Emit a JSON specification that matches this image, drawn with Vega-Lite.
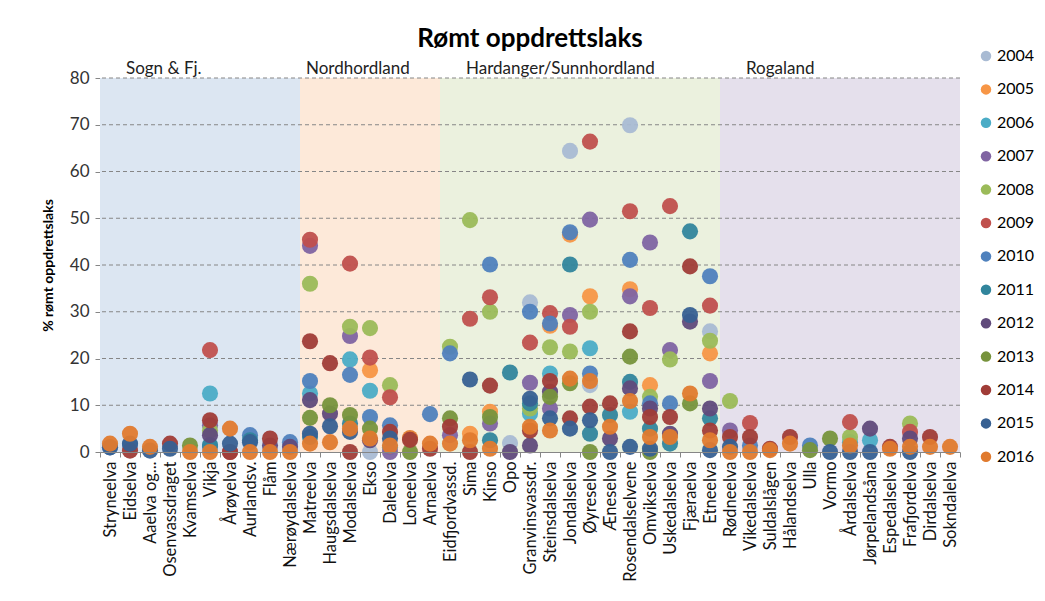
{
  "$schema": "https://vega.github.io/schema/vega-lite/v6.json",
  "width": 860,
  "height": 374,
  "autosize": {"type": "none"},
  "padding": {"left": 100, "top": 78, "right": 85, "bottom": 149},
  "background": "white",
  "config": {"view": {"stroke": null}, "font": "Lato"},
  "title": {"text": "Rømt oppdrettslaks", "font": "Lato", "fontSize": 26, "fontWeight": "bold", "color": "#000000", "anchor": "middle", "offset": -4},
  "datasets": {
    "rivers": [
      {"r": "Stryneelva", "y": "2010", "v": 1.0}, {"r": "Stryneelva", "y": "2015", "v": 1.0}, {"r": "Stryneelva", "y": "2016", "v": 1.8},
      {"r": "Eidselva", "y": "2010", "v": 1.5}, {"r": "Eidselva", "y": "2014", "v": 0.3}, {"r": "Eidselva", "y": "2015", "v": 1.8}, {"r": "Eidselva", "y": "2016", "v": 3.9},
      {"r": "Aaelva og...", "y": "2015", "v": 0.3}, {"r": "Aaelva og...", "y": "2016", "v": 1.1},
      {"r": "Osenvassdraget", "y": "2014", "v": 1.8}, {"r": "Osenvassdraget", "y": "2015", "v": 0.7},
      {"r": "Kvamselva", "y": "2013", "v": 1.4}, {"r": "Kvamselva", "y": "2016", "v": 0.0},
      {"r": "Vikja", "y": "2006", "v": 12.5}, {"r": "Vikja", "y": "2007", "v": 5.7}, {"r": "Vikja", "y": "2008", "v": 4.6}, {"r": "Vikja", "y": "2009", "v": 21.8}, {"r": "Vikja", "y": "2010", "v": 1.1}, {"r": "Vikja", "y": "2011", "v": 1.5}, {"r": "Vikja", "y": "2012", "v": 3.6}, {"r": "Vikja", "y": "2014", "v": 6.8}, {"r": "Vikja", "y": "2016", "v": 0.0},
      {"r": "Årøyelva", "y": "2009", "v": 0.0}, {"r": "Årøyelva", "y": "2014", "v": 0.0}, {"r": "Årøyelva", "y": "2015", "v": 1.8}, {"r": "Årøyelva", "y": "2016", "v": 5.0},
      {"r": "Aurlandsv.", "y": "2010", "v": 3.6}, {"r": "Aurlandsv.", "y": "2011", "v": 2.5}, {"r": "Aurlandsv.", "y": "2015", "v": 2.1}, {"r": "Aurlandsv.", "y": "2016", "v": 0.0},
      {"r": "Flåm", "y": "2012", "v": 1.4}, {"r": "Flåm", "y": "2014", "v": 2.9}, {"r": "Flåm", "y": "2016", "v": 0.0},
      {"r": "Nærøydalselva", "y": "2010", "v": 2.1}, {"r": "Nærøydalselva", "y": "2012", "v": 1.1}, {"r": "Nærøydalselva", "y": "2016", "v": 0.0},
      {"r": "Matreelva", "y": "2006", "v": 12.5}, {"r": "Matreelva", "y": "2007", "v": 44.1}, {"r": "Matreelva", "y": "2008", "v": 36.0}, {"r": "Matreelva", "y": "2009", "v": 45.4}, {"r": "Matreelva", "y": "2010", "v": 15.2}, {"r": "Matreelva", "y": "2011", "v": 3.2}, {"r": "Matreelva", "y": "2012", "v": 11.1}, {"r": "Matreelva", "y": "2013", "v": 7.3}, {"r": "Matreelva", "y": "2014", "v": 23.7}, {"r": "Matreelva", "y": "2015", "v": 3.9}, {"r": "Matreelva", "y": "2016", "v": 1.8},
      {"r": "Haugsdalselva", "y": "2012", "v": 8.2}, {"r": "Haugsdalselva", "y": "2013", "v": 10.0}, {"r": "Haugsdalselva", "y": "2014", "v": 19.0}, {"r": "Haugsdalselva", "y": "2015", "v": 5.5}, {"r": "Haugsdalselva", "y": "2016", "v": 2.1},
      {"r": "Modalselva", "y": "2006", "v": 19.8}, {"r": "Modalselva", "y": "2007", "v": 24.8}, {"r": "Modalselva", "y": "2008", "v": 26.8}, {"r": "Modalselva", "y": "2009", "v": 40.3}, {"r": "Modalselva", "y": "2010", "v": 16.5}, {"r": "Modalselva", "y": "2011", "v": 6.1}, {"r": "Modalselva", "y": "2013", "v": 7.9}, {"r": "Modalselva", "y": "2014", "v": 0.0}, {"r": "Modalselva", "y": "2015", "v": 4.3}, {"r": "Modalselva", "y": "2016", "v": 5.0},
      {"r": "Ekso", "y": "2004", "v": 0.0}, {"r": "Ekso", "y": "2005", "v": 17.5}, {"r": "Ekso", "y": "2006", "v": 13.1}, {"r": "Ekso", "y": "2008", "v": 26.5}, {"r": "Ekso", "y": "2009", "v": 20.2}, {"r": "Ekso", "y": "2010", "v": 7.5}, {"r": "Ekso", "y": "2012", "v": 2.5}, {"r": "Ekso", "y": "2013", "v": 5.0}, {"r": "Ekso", "y": "2016", "v": 2.9},
      {"r": "Daleelva", "y": "2006", "v": 1.0}, {"r": "Daleelva", "y": "2007", "v": 0.0}, {"r": "Daleelva", "y": "2008", "v": 14.3}, {"r": "Daleelva", "y": "2009", "v": 11.7}, {"r": "Daleelva", "y": "2010", "v": 5.7}, {"r": "Daleelva", "y": "2014", "v": 4.3}, {"r": "Daleelva", "y": "2015", "v": 2.9}, {"r": "Daleelva", "y": "2016", "v": 1.4},
      {"r": "Loneelva", "y": "2013", "v": 0.0}, {"r": "Loneelva", "y": "2016", "v": 3.0}, {"r": "Loneelva", "y": "2014", "v": 2.6},
      {"r": "Arnaelva", "y": "2010", "v": 8.1}, {"r": "Arnaelva", "y": "2014", "v": 0.7}, {"r": "Arnaelva", "y": "2016", "v": 1.8},
      {"r": "Eidfjordvassd.", "y": "2007", "v": 3.6}, {"r": "Eidfjordvassd.", "y": "2008", "v": 22.5}, {"r": "Eidfjordvassd.", "y": "2010", "v": 21.1}, {"r": "Eidfjordvassd.", "y": "2013", "v": 7.2}, {"r": "Eidfjordvassd.", "y": "2014", "v": 5.4}, {"r": "Eidfjordvassd.", "y": "2016", "v": 1.8},
      {"r": "Sima", "y": "2005", "v": 3.9}, {"r": "Sima", "y": "2008", "v": 49.6}, {"r": "Sima", "y": "2009", "v": 28.5}, {"r": "Sima", "y": "2014", "v": 0.0}, {"r": "Sima", "y": "2015", "v": 15.5}, {"r": "Sima", "y": "2016", "v": 2.5},
      {"r": "Kinso", "y": "2005", "v": 8.6}, {"r": "Kinso", "y": "2007", "v": 6.1}, {"r": "Kinso", "y": "2008", "v": 30.0}, {"r": "Kinso", "y": "2009", "v": 33.1}, {"r": "Kinso", "y": "2010", "v": 40.1}, {"r": "Kinso", "y": "2011", "v": 2.5}, {"r": "Kinso", "y": "2013", "v": 7.5}, {"r": "Kinso", "y": "2014", "v": 14.2}, {"r": "Kinso", "y": "2016", "v": 0.7},
      {"r": "Opo", "y": "2004", "v": 1.9}, {"r": "Opo", "y": "2011", "v": 17.0}, {"r": "Opo", "y": "2012", "v": 0.0},
      {"r": "Granvinsvassdr.", "y": "2004", "v": 32.0}, {"r": "Granvinsvassdr.", "y": "2006", "v": 8.2}, {"r": "Granvinsvassdr.", "y": "2007", "v": 14.8}, {"r": "Granvinsvassdr.", "y": "2008", "v": 9.3}, {"r": "Granvinsvassdr.", "y": "2009", "v": 23.4}, {"r": "Granvinsvassdr.", "y": "2010", "v": 30.0}, {"r": "Granvinsvassdr.", "y": "2011", "v": 10.4}, {"r": "Granvinsvassdr.", "y": "2012", "v": 1.4}, {"r": "Granvinsvassdr.", "y": "2014", "v": 4.6}, {"r": "Granvinsvassdr.", "y": "2015", "v": 11.4}, {"r": "Granvinsvassdr.", "y": "2016", "v": 5.4},
      {"r": "Steinsdalselva", "y": "2005", "v": 27.0}, {"r": "Steinsdalselva", "y": "2006", "v": 16.8}, {"r": "Steinsdalselva", "y": "2007", "v": 9.3}, {"r": "Steinsdalselva", "y": "2008", "v": 22.4}, {"r": "Steinsdalselva", "y": "2009", "v": 29.7}, {"r": "Steinsdalselva", "y": "2010", "v": 27.5}, {"r": "Steinsdalselva", "y": "2012", "v": 12.9}, {"r": "Steinsdalselva", "y": "2013", "v": 11.8}, {"r": "Steinsdalselva", "y": "2014", "v": 15.2}, {"r": "Steinsdalselva", "y": "2015", "v": 7.2}, {"r": "Steinsdalselva", "y": "2016", "v": 4.6},
      {"r": "Jondalselva", "y": "2004", "v": 64.4}, {"r": "Jondalselva", "y": "2005", "v": 46.5}, {"r": "Jondalselva", "y": "2007", "v": 29.3}, {"r": "Jondalselva", "y": "2008", "v": 21.5}, {"r": "Jondalselva", "y": "2009", "v": 26.8}, {"r": "Jondalselva", "y": "2010", "v": 47.0}, {"r": "Jondalselva", "y": "2011", "v": 40.1}, {"r": "Jondalselva", "y": "2013", "v": 14.7}, {"r": "Jondalselva", "y": "2014", "v": 7.2}, {"r": "Jondalselva", "y": "2015", "v": 5.0}, {"r": "Jondalselva", "y": "2016", "v": 15.7},
      {"r": "Øyreselva", "y": "2004", "v": 14.3}, {"r": "Øyreselva", "y": "2005", "v": 33.3}, {"r": "Øyreselva", "y": "2006", "v": 22.2}, {"r": "Øyreselva", "y": "2007", "v": 49.7}, {"r": "Øyreselva", "y": "2008", "v": 30.0}, {"r": "Øyreselva", "y": "2009", "v": 66.4}, {"r": "Øyreselva", "y": "2010", "v": 16.8}, {"r": "Øyreselva", "y": "2011", "v": 3.9}, {"r": "Øyreselva", "y": "2013", "v": 0.0}, {"r": "Øyreselva", "y": "2014", "v": 9.7}, {"r": "Øyreselva", "y": "2015", "v": 6.8}, {"r": "Øyreselva", "y": "2016", "v": 15.2},
      {"r": "Æneselva", "y": "2011", "v": 7.9}, {"r": "Æneselva", "y": "2012", "v": 2.9}, {"r": "Æneselva", "y": "2014", "v": 10.4}, {"r": "Æneselva", "y": "2015", "v": 0.0}, {"r": "Æneselva", "y": "2016", "v": 5.4},
      {"r": "Rosendalselvene", "y": "2004", "v": 69.9}, {"r": "Rosendalselvene", "y": "2005", "v": 34.8}, {"r": "Rosendalselvene", "y": "2006", "v": 8.6}, {"r": "Rosendalselvene", "y": "2007", "v": 33.3}, {"r": "Rosendalselvene", "y": "2009", "v": 51.5}, {"r": "Rosendalselvene", "y": "2010", "v": 41.1}, {"r": "Rosendalselvene", "y": "2011", "v": 15.0}, {"r": "Rosendalselvene", "y": "2012", "v": 13.6}, {"r": "Rosendalselvene", "y": "2013", "v": 20.4}, {"r": "Rosendalselvene", "y": "2014", "v": 25.8}, {"r": "Rosendalselvene", "y": "2015", "v": 1.1}, {"r": "Rosendalselvene", "y": "2016", "v": 10.9},
      {"r": "Omvikselva", "y": "2005", "v": 14.3}, {"r": "Omvikselva", "y": "2007", "v": 44.8}, {"r": "Omvikselva", "y": "2008", "v": 11.8}, {"r": "Omvikselva", "y": "2009", "v": 30.8}, {"r": "Omvikselva", "y": "2010", "v": 10.4}, {"r": "Omvikselva", "y": "2011", "v": 5.0}, {"r": "Omvikselva", "y": "2012", "v": 9.3}, {"r": "Omvikselva", "y": "2013", "v": 0.0}, {"r": "Omvikselva", "y": "2014", "v": 7.5}, {"r": "Omvikselva", "y": "2015", "v": 0.7}, {"r": "Omvikselva", "y": "2016", "v": 3.2},
      {"r": "Uskedalselva", "y": "2007", "v": 21.8}, {"r": "Uskedalselva", "y": "2008", "v": 19.8}, {"r": "Uskedalselva", "y": "2009", "v": 52.6}, {"r": "Uskedalselva", "y": "2010", "v": 10.4}, {"r": "Uskedalselva", "y": "2011", "v": 1.8}, {"r": "Uskedalselva", "y": "2012", "v": 3.9}, {"r": "Uskedalselva", "y": "2014", "v": 7.5}, {"r": "Uskedalselva", "y": "2016", "v": 3.2},
      {"r": "Fjæraelva", "y": "2011", "v": 47.2}, {"r": "Fjæraelva", "y": "2012", "v": 27.9}, {"r": "Fjæraelva", "y": "2013", "v": 10.4}, {"r": "Fjæraelva", "y": "2014", "v": 39.7}, {"r": "Fjæraelva", "y": "2015", "v": 29.3}, {"r": "Fjæraelva", "y": "2016", "v": 12.5},
      {"r": "Etneelva", "y": "2004", "v": 25.8}, {"r": "Etneelva", "y": "2005", "v": 21.1}, {"r": "Etneelva", "y": "2007", "v": 15.2}, {"r": "Etneelva", "y": "2008", "v": 23.8}, {"r": "Etneelva", "y": "2009", "v": 31.3}, {"r": "Etneelva", "y": "2010", "v": 37.6}, {"r": "Etneelva", "y": "2011", "v": 7.2}, {"r": "Etneelva", "y": "2012", "v": 9.3}, {"r": "Etneelva", "y": "2014", "v": 4.6}, {"r": "Etneelva", "y": "2015", "v": 0.4}, {"r": "Etneelva", "y": "2016", "v": 2.5},
      {"r": "Rødneelva", "y": "2007", "v": 4.6}, {"r": "Rødneelva", "y": "2008", "v": 10.9}, {"r": "Rødneelva", "y": "2014", "v": 3.2}, {"r": "Rødneelva", "y": "2015", "v": 1.1}, {"r": "Rødneelva", "y": "2016", "v": 0.0},
      {"r": "Vikedalselva", "y": "2009", "v": 6.2}, {"r": "Vikedalselva", "y": "2010", "v": 1.4}, {"r": "Vikedalselva", "y": "2014", "v": 3.2}, {"r": "Vikedalselva", "y": "2016", "v": 0.0},
      {"r": "Suldalslågen", "y": "2014", "v": 0.7}, {"r": "Suldalslågen", "y": "2016", "v": 0.4},
      {"r": "Hålandselva", "y": "2014", "v": 3.2}, {"r": "Hålandselva", "y": "2016", "v": 1.8},
      {"r": "Ulla", "y": "2010", "v": 1.4}, {"r": "Ulla", "y": "2013", "v": 0.4},
      {"r": "Vormo", "y": "2013", "v": 2.9}, {"r": "Vormo", "y": "2015", "v": 0.0},
      {"r": "Årdalselva", "y": "2006", "v": 2.1}, {"r": "Årdalselva", "y": "2008", "v": 3.2}, {"r": "Årdalselva", "y": "2009", "v": 6.4}, {"r": "Årdalselva", "y": "2015", "v": 0.0}, {"r": "Årdalselva", "y": "2016", "v": 1.4},
      {"r": "Jørpelandsåna", "y": "2006", "v": 2.5}, {"r": "Jørpelandsåna", "y": "2012", "v": 5.0}, {"r": "Jørpelandsåna", "y": "2015", "v": 0.0},
      {"r": "Espedalselva", "y": "2014", "v": 1.1}, {"r": "Espedalselva", "y": "2016", "v": 0.7},
      {"r": "Frafjordelva", "y": "2008", "v": 6.1}, {"r": "Frafjordelva", "y": "2009", "v": 4.3}, {"r": "Frafjordelva", "y": "2012", "v": 2.9}, {"r": "Frafjordelva", "y": "2015", "v": 0.0}, {"r": "Frafjordelva", "y": "2016", "v": 1.1},
      {"r": "Dirdalselva", "y": "2014", "v": 3.2}, {"r": "Dirdalselva", "y": "2016", "v": 1.1},
      {"r": "Sokndalelva", "y": "2016", "v": 1.1}
    ],
    "regions": [
      {"region": "Sogn & Fj.", "start": "Stryneelva", "end": "Nærøydalselva", "lab": "Eidselva"},
      {"region": "Nordhordland", "start": "Matreelva", "end": "Arnaelva", "lab": "Matreelva"},
      {"region": "Hardanger/Sunnhordland", "start": "Eidfjordvassd.", "end": "Etneelva", "lab": "Sima"},
      {"region": "Rogaland", "start": "Rødneelva", "end": "Sokndalelva", "lab": "Vikedalselva"}
    ],
    "grid": [{"g": 10}, {"g": 20}, {"g": 30}, {"g": 40}, {"g": 50}, {"g": 60}, {"g": 70}, {"g": 80}]
  },
  "layer": [
    {
      "data": {"name": "regions"},
      "mark": {"type": "rect"},
      "encoding": {
        "x": {"field": "start", "type": "nominal", "bandPosition": 0},
        "x2": {"field": "end", "bandPosition": 1},
        "y": {"datum": 80, "type": "quantitative"},
        "y2": {"datum": 0},
        "fill": {"field": "region", "type": "nominal", "legend": null,
          "scale": {"domain": ["Sogn & Fj.", "Nordhordland", "Hardanger/Sunnhordland", "Rogaland"], "range": ["#DCE6F2", "#FDE9D9", "#EBF1DE", "#E5E0EC"]}}
      }
    },
    {
      "data": {"name": "grid"},
      "mark": {"type": "rule", "color": "#868686", "strokeDash": [4, 3], "strokeWidth": 1},
      "encoding": {"y": {"field": "g", "type": "quantitative"}}
    },
    {
      "data": {"name": "regions"},
      "mark": {"type": "text", "align": "left", "baseline": "alphabetic", "dy": -4, "dx": 6, "fontSize": 17, "font": "Lato", "color": "#222222"},
      "encoding": {
        "x": {"field": "lab", "type": "nominal", "bandPosition": 0},
        "y": {"datum": 80, "type": "quantitative"},
        "text": {"field": "region"}
      }
    },
    {
      "data": {"name": "rivers"},
      "mark": {"type": "circle", "size": 260, "opacity": 0.95},
      "encoding": {
        "x": {"field": "r", "type": "nominal", "sort": null,
          "scale": {"paddingInner": 0, "paddingOuter": 0, "domain": ["Stryneelva", "Eidselva", "Aaelva og...", "Osenvassdraget", "Kvamselva", "Vikja", "Årøyelva", "Aurlandsv.", "Flåm", "Nærøydalselva", "Matreelva", "Haugsdalselva", "Modalselva", "Ekso", "Daleelva", "Loneelva", "Arnaelva", "Eidfjordvassd.", "Sima", "Kinso", "Opo", "Granvinsvassdr.", "Steinsdalselva", "Jondalselva", "Øyreselva", "Æneselva", "Rosendalselvene", "Omvikselva", "Uskedalselva", "Fjæraelva", "Etneelva", "Rødneelva", "Vikedalselva", "Suldalslågen", "Hålandselva", "Ulla", "Vormo", "Årdalselva", "Jørpelandsåna", "Espedalselva", "Frafjordelva", "Dirdalselva", "Sokndalelva"]},
          "axis": {"title": null, "labelAngle": -90, "labelFontSize": 16.5, "labelColor": "#111111", "labelFont": "Lato", "labelPadding": 4, "labelOverlap": false, "tickBand": "extent", "tickSize": 5, "tickColor": "#868686", "domainColor": "#868686", "labelLimit": 200}},
        "y": {"field": "v", "type": "quantitative",
          "scale": {"domain": [0, 80], "nice": false},
          "axis": {"title": "% rømt oppdrettslaks", "titleFontSize": 14, "titleFont": "Lato", "titleFontWeight": "bold", "titleColor": "#000000", "titlePadding": 14, "values": [0, 10, 20, 30, 40, 50, 60, 70, 80], "grid": false, "labelFontSize": 17, "labelFont": "Lato", "labelColor": "#333333", "labelPadding": 6, "tickColor": "#868686", "tickSize": 5, "domainColor": "#868686"}},
        "color": {"field": "y", "type": "nominal",
          "scale": {"domain": ["2004", "2005", "2006", "2007", "2008", "2009", "2010", "2011", "2012", "2013", "2014", "2015", "2016"],
            "range": ["#A9BBD3", "#F79646", "#4BACC6", "#8064A2", "#9BBB59", "#C0504D", "#4F81BD", "#31859C", "#604A7B", "#77933C", "#A03C37", "#376092", "#E07A2E"]},
          "legend": {"title": null, "orient": "none", "legendX": 878, "legendY": -30, "symbolType": "circle", "symbolSize": 110, "symbolStrokeWidth": 0, "symbolOpacity": 1, "labelFontSize": 16, "labelFont": "Lato", "labelColor": "#000000", "rowPadding": 17.4, "labelOffset": 3}}
      }
    }
  ]
}
